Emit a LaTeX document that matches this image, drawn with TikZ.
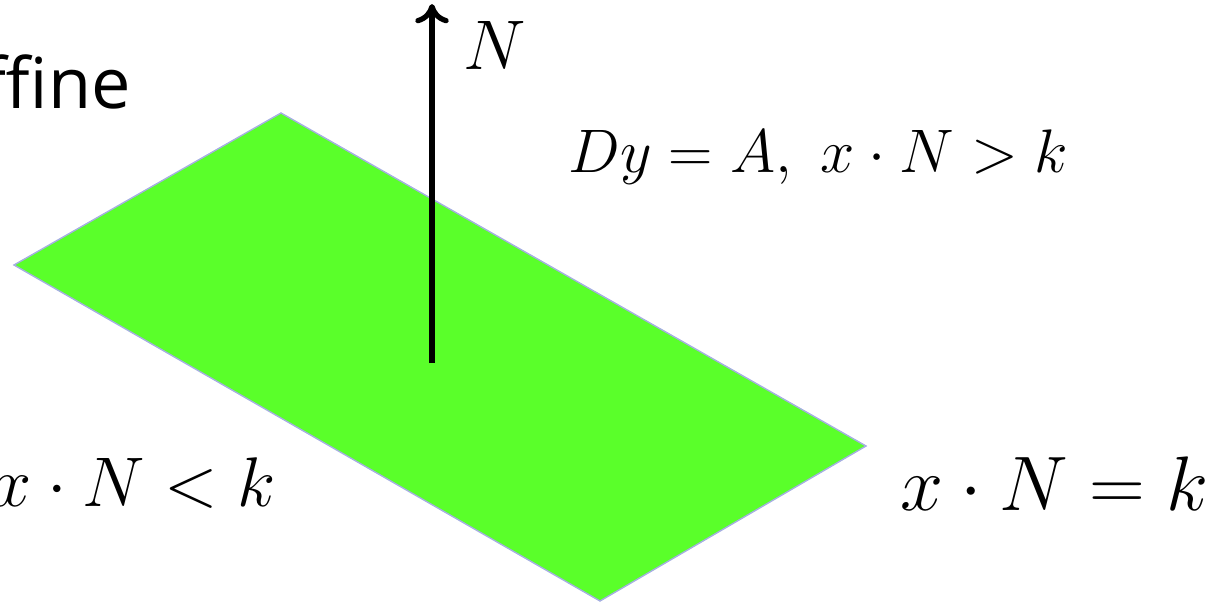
\RequirePackage{fix-cm}
\documentclass[tikz,border=0pt]{standalone}
\usepackage{amsmath, amssymb}
\usepackage{fontspec}
\setsansfont{Open Sans}
\usepackage{xcolor}
\definecolor{planegreen}{RGB}{90, 255, 42}
\definecolor{planeedge}{RGB}{165, 175, 225}
\usepackage{tikz}
\usetikzlibrary{
  arrows.meta,
  positioning
}

\begin{document}
\begin{tikzpicture}[
  x=0.02cm, y=-0.02cm,
  lbl/.style={inner sep=0pt, font=\fontsize{40}{48}\selectfont},
  normal/.style={line width=3.6pt, -{Computer Modern Rightarrow[length=11pt, width=19pt, line width=3pt]}}
]

  % page frame (pixel grid of the slide crop)
  \useasboundingbox (0, 0) rectangle (1221, 605);

  % the affine plane
  \coordinate (pl) at (14, 265);
  \coordinate (pt) at (281, 113);
  \coordinate (pr) at (866, 446);
  \coordinate (pb) at (600, 601);
  \fill[planegreen, draw=planeedge, line width=0.8pt] (pl) -- (pt) -- (pr) -- (pb) -- cycle;

  % normal vector
  \coordinate (foot) at (432, 363);
  \coordinate (tip) at (432, 4);
  \draw[normal] (foot) -- (tip);
  \node[lbl, anchor=base west] (nlabel) at (463, 70) {$N$};

  % slide title, cut at the left
  \node[inner sep=0pt, anchor=base east, font=\sffamily\fontsize{40}{48}\selectfont] (title) at (131, 108) {Affine};

  % half spaces and the plane
  \node[inner sep=0pt, anchor=base west, font=\fontsize{35}{42}\selectfont] (upper) at (568, 172) {$Dy = A,\ x \cdot N > k$};
  \node[lbl, anchor=base east] (lower) at (276, 506) {$x \cdot N < k$};
  \node[lbl, anchor=base west, font=\fontsize{44}{52}\selectfont] (onplane) at (900, 510) {$x \cdot N = k$};

\end{tikzpicture}
\end{document}
